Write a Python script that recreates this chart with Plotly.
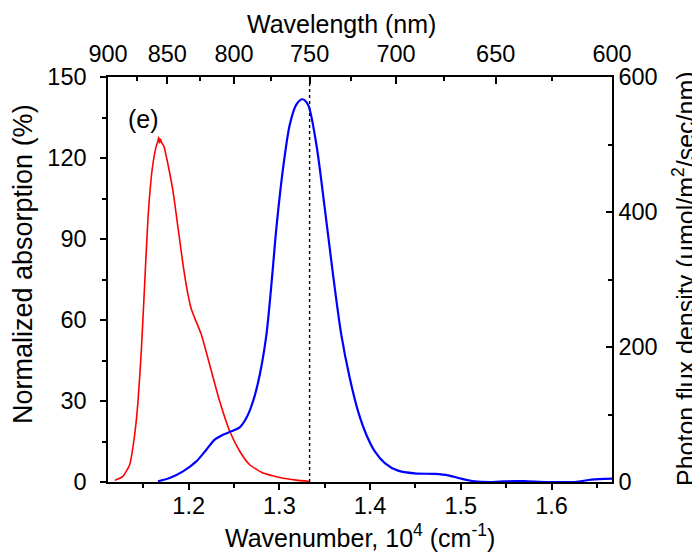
import plotly.graph_objects as go

# ---------------- data ----------------
# Normalized absorption (%) vs wavenumber (10^4 cm^-1)
red_wn = [1.1185, 1.1276, 1.1350, 1.1405, 1.1442, 1.1478, 1.1515, 1.1552, 1.1600,
          1.1644, 1.1660, 1.1670, 1.1680, 1.1690, 1.1705, 1.1725, 1.1773, 1.1828,
          1.1883, 1.1938, 1.1993, 1.2030, 1.2067, 1.2140, 1.2232, 1.2342, 1.2453,
          1.2563, 1.2673, 1.2820, 1.3004, 1.3187, 1.3335]
red_abs = [0.6, 2.1, 6.4, 17.5, 29.9, 48.4, 73.1, 97.8, 116.3,
           124.5, 126.0, 127.8, 125.6, 127.0, 125.5, 124.6, 117.5, 107.6,
           94.1, 80.5, 69.4, 64.0, 60.7, 54.6, 43.4, 29.9, 18.8,
           11.4, 6.4, 3.3, 1.7, 0.7, 0.2]

# Photon flux density (umol/m2/sec/nm) vs wavenumber
blue_wn = [1.1662, 1.1791, 1.1938, 1.2085, 1.2195, 1.2287, 1.2379, 1.2471, 1.2563,
           1.2636, 1.2710, 1.2784, 1.2857, 1.2912, 1.2967, 1.3041, 1.3114, 1.3187,
           1.3253, 1.3316, 1.3408, 1.3500, 1.3592, 1.3683, 1.3776, 1.3867, 1.3959,
           1.4052, 1.4162, 1.4308, 1.4493, 1.4713, 1.4860, 1.5006, 1.5154, 1.5337,
           1.5595, 1.5741, 1.5962, 1.6256, 1.6440, 1.6667]
blue_flux = [1, 5.9, 15.8, 30.6, 47.9, 62.7, 70.1, 75.1, 81,
             94.8, 119.6, 159, 218, 292, 376, 465, 529, 559,
             567, 559, 500, 406, 307, 218, 154, 105, 70,
             45.4, 28.1, 16.8, 12.8, 11.9, 9.9, 4.9, 1.0, 0.0,
             1.5, 1.0, 0.0, 0.0, 3.5, 4.9]

bottom_ticks = [1.2, 1.3, 1.4, 1.5, 1.6]
bottom_minor = [1.15, 1.25, 1.35, 1.45, 1.55, 1.65]
top_wl_major = [900, 850, 800, 750, 700, 650, 600]
top_wl_minor = [875, 825, 775, 725, 675, 625]
left_ticks = [0, 30, 60, 90, 120, 150]
right_ticks = [0, 200, 400, 600]
marker_wl = 750

# ---------------- figure ----------------
FONT = "Liberation Sans, Arial, sans-serif"
TICKF = dict(family=FONT, size=23.5, color="black")
TITLEF = dict(family=FONT, size=25, color="black")
LTITLEF = dict(family=FONT, size=27, color="black")

def wl2wn(wl):
    return 1000.0 / wl

xr = [wl2wn(900), wl2wn(600)]

fig = go.Figure()
fig.add_trace(go.Scatter(x=red_wn, y=red_abs, mode="lines",
                         line=dict(color="#ff0000", width=1.6, shape="spline", smoothing=0.5),
                         xaxis="x", yaxis="y", showlegend=False))
fig.add_trace(go.Scatter(x=blue_wn, y=blue_flux, mode="lines",
                         line=dict(color="#0000ff", width=2.2, shape="spline", smoothing=0.8),
                         xaxis="x", yaxis="y2", showlegend=False))
fig.add_trace(go.Scatter(x=[wl2wn(marker_wl)] * 2, y=[0, 150], mode="lines",
                         line=dict(color="black", width=1.4, dash="dot"),
                         xaxis="x", yaxis="y", showlegend=False))
# invisible trace to activate the top (wavelength) axis
fig.add_trace(go.Scatter(x=xr, y=[0, 0], mode="lines", line=dict(width=0),
                         opacity=0, xaxis="x2", yaxis="y", showlegend=False,
                         hoverinfo="skip"))

axline = dict(showline=True, linecolor="black", linewidth=1.5, showgrid=False,
              zeroline=False, tickcolor="black", tickwidth=1.5, tickfont=TICKF)

fig.update_layout(
    width=700, height=552,
    margin=dict(l=100, r=96, t=69, b=78),
    paper_bgcolor="white", plot_bgcolor="white",
    xaxis=dict(range=xr, tickmode="array", tickvals=bottom_ticks,
               ticktext=[f"{v:.1f}" for v in bottom_ticks],
               ticks="outside", ticklen=6, ticklabelstandoff=-4,
               minor=dict(tickmode="array", tickvals=bottom_minor, ticks="outside",
                          ticklen=4, tickcolor="black", tickwidth=1.5),
               **axline),
    xaxis2=dict(range=xr, overlaying="x", side="top", anchor="y",
                tickmode="array", tickvals=[wl2wn(w) for w in top_wl_major],
                ticktext=[str(w) for w in top_wl_major],
                ticks="inside", ticklen=7, ticklabelstandoff=4,
                minor=dict(tickmode="array", tickvals=[wl2wn(w) for w in top_wl_minor],
                           ticks="inside", ticklen=4, tickcolor="black", tickwidth=1.5),
                **axline),
    yaxis=dict(range=[0, 150], tickmode="array", tickvals=left_ticks,
               ticks="outside", ticklen=6, ticklabelstandoff=9,
               minor=dict(dtick=15, ticks="outside", ticklen=4,
                          tickcolor="black", tickwidth=1.5),
               **axline),
    yaxis2=dict(range=[0, 600], overlaying="y", side="right", anchor="x",
                tickmode="array", tickvals=right_ticks,
                ticks="inside", ticklen=6, ticklabelstandoff=0,
                minor=dict(dtick=100, ticks="inside", ticklen=4,
                           tickcolor="black", tickwidth=1.5),
                **axline),
)

def py(px):
    return (474 - px) / 405.0

def pxx(px):
    return (px - 100) / 504.0

ann = [
    dict(text="(e)", x=1.1497, y=134.4, xref="x", yref="y", showarrow=False,
         font=TITLEF, xanchor="center", yanchor="middle"),
    dict(text="Wavelength (nm)", x=pxx(333), y=py(16), xref="paper", yref="paper",
         showarrow=False, font=TITLEF, xanchor="center", yanchor="middle"),
    dict(text="Wavenumber, 10<sup>4</sup> (cm<sup>-1</sup>)", x=pxx(352), y=py(528),
         xref="paper", yref="paper", showarrow=False, font=TITLEF,
         xanchor="center", yanchor="middle"),
    dict(text="Normalized absorption (%)", x=pxx(15), y=py(256), xref="paper",
         yref="paper", showarrow=False, font=LTITLEF, textangle=-90,
         xanchor="center", yanchor="middle"),
    dict(text="Photon flux density (μmol/m<sup>2</sup>/sec/nm)", x=pxx(676), y=py(271),
         xref="paper", yref="paper", showarrow=False, font=TITLEF, textangle=-90,
         xanchor="center", yanchor="middle"),
]
fig.update_layout(annotations=ann)

fig.write_html("out.html")
